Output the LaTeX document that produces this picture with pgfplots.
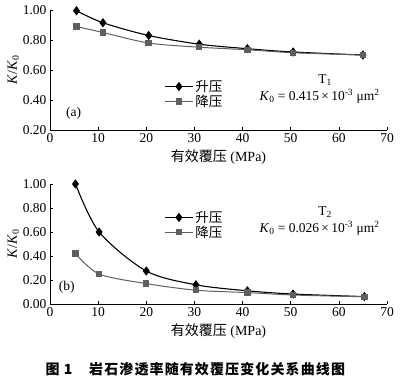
\documentclass[border=0pt]{standalone}
\usepackage{fontspec}
\setmainfont{Liberation Serif}
\newfontfamily\cjk{Noto Sans CJK SC}
\newfontfamily\cjkcap{Noto Sans CJK SC}[LetterSpace=8]
\usepackage{pgfplots}
\pgfplotsset{compat=1.18}
\definecolor{gr}{RGB}{95,95,95}
\pgfplotsset{
  myax/.style={
    scale only axis, width=337bp, height=120bp,
    xmin=0, xmax=70, xtick={0,10,...,70},
    axis x line*=bottom, axis y line*=left,
    tick align=inside, major tick length=3bp,
    every tick/.style={black, line width=0.6pt},
    axis line style={line width=0.8pt},
    ticklabel style={font=\fontsize{13.5bp}{15bp}\selectfont},
    /pgf/number format/assume math mode=true,
    yticklabel style={/pgf/number format/fixed, /pgf/number format/fixed zerofill, /pgf/number format/precision=2},
    xlabel={{\cjk 有效覆压} (MPa)},
    xlabel style={font=\fontsize{14bp}{16bp}\selectfont, yshift=0bp},
    ylabel={\textit{K}/\textit{K}\textsubscript{0}},
    ylabel style={font=\fontsize{14bp}{16bp}\selectfont, yshift=-3bp},
    legend cell align=left,
    legend style={draw=none, fill=none, font=\cjk\fontsize{13.5bp}{16bp}\selectfont, row sep=-2bp},
    legend image code/.code={\draw[mark repeat=2,mark phase=2] plot coordinates {(0bp,0bp) (14bp,0bp) (28bp,0bp)};},
    up/.style={black, line width=1.1pt, smooth, tension=0.5, mark=diamond*, mark size=3.8bp, mark options={solid}},
    dn/.style={gr, line width=1pt, smooth, tension=0.5, mark=square*, mark size=2.7bp},
  }
}
\begin{document}
\begin{tikzpicture}
\path[use as bounding box] (0bp,0bp) rectangle (400bp,-379bp);
\begin{axis}[myax, at={(50bp,-130bp)}, anchor=south west,
  ymin=0.2, ymax=1.0, ytick={0.2,0.4,...,1.0},
  legend style={at={(0.33,0.30)}, anchor=west}]
\addplot[up] coordinates {(5.5,0.995) (11,0.915) (20.5,0.83) (31,0.772) (41,0.742) (50.5,0.72) (65,0.70)};
\addlegendentry{升压}
\addplot[dn] coordinates {(5.5,0.89) (11,0.85) (20.5,0.78) (31,0.752) (41,0.735) (50.5,0.715) (65,0.70)};
\addlegendentry{降压}
\node[font=\fontsize{13.5bp}{15bp}\selectfont] at (rel axis cs:0.816,0.417) {T\textsubscript{1}};
\node[font=\fontsize{13.5bp}{15bp}\selectfont] at (rel axis cs:0.80,0.283) {\textit{K}\textsubscript{0} = 0.415\,×\,10\textsuperscript{-3} μm\textsuperscript{2}};
\node[font=\fontsize{13.5bp}{15bp}\selectfont] at (rel axis cs:0.07,0.14) {(a)};
\end{axis}
\begin{axis}[myax, at={(50bp,-304bp)}, anchor=south west,
  ymin=0, ymax=1.0, ytick={0,0.2,...,1.0},
  legend style={at={(0.33,0.66)}, anchor=west}]
\addplot[up] coordinates {(5.3,1.00) (10.2,0.60) (20,0.275) (30.3,0.16) (41,0.11) (50.5,0.083) (65.3,0.062)};
\addlegendentry{升压}
\addplot[dn] coordinates {(5.3,0.42) (10.2,0.25) (20,0.17) (30.3,0.115) (41,0.095) (50.5,0.075) (65.3,0.06)};
\addlegendentry{降压}
\node[font=\fontsize{13.5bp}{15bp}\selectfont] at (rel axis cs:0.816,0.767) {T\textsubscript{2}};
\node[font=\fontsize{13.5bp}{15bp}\selectfont] at (rel axis cs:0.80,0.633) {\textit{K}\textsubscript{0} = 0.026\,×\,10\textsuperscript{-3} μm\textsuperscript{2}};
\node[font=\fontsize{13.5bp}{15bp}\selectfont] at (rel axis cs:0.05,0.14) {(b)};
\end{axis}
\node[font=\cjkcap\bfseries\fontsize{14bp}{16bp}\selectfont, anchor=west] at (42bp,-369bp) {图 1\hspace{1.2em}岩石渗透率随有效覆压变化关系曲线图};
\end{tikzpicture}
\end{document}
